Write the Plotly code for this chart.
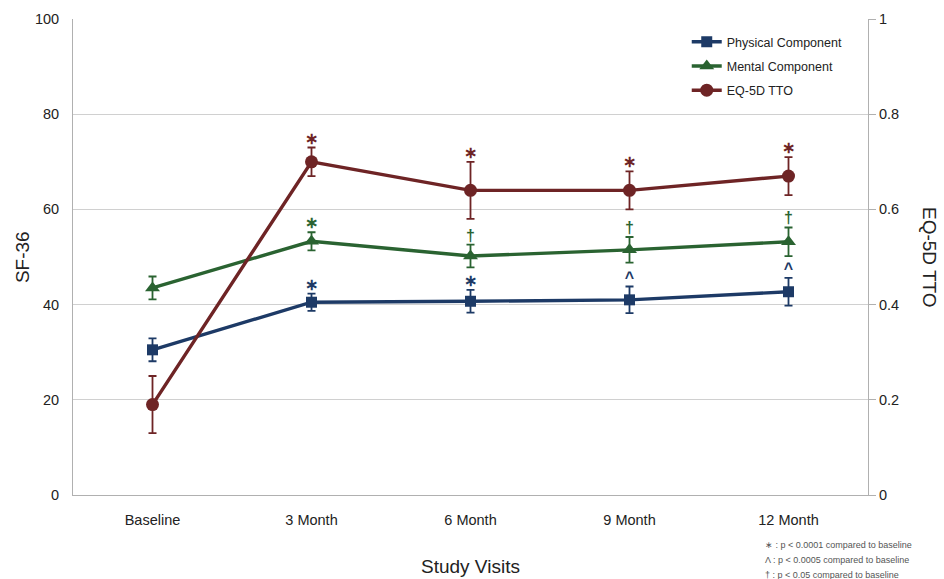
import plotly.graph_objects as go

# Study visits and measured scores
visits = ["Baseline", "3 Month", "6 Month", "9 Month", "12 Month"]

physical = [30.5, 40.5, 40.7, 41.0, 42.7]
physical_err = [2.4, 1.8, 2.4, 2.8, 2.9]
physical_sig = ["", "∗", "∗", "^", "^"]

mental = [43.5, 53.3, 50.2, 51.5, 53.2]
mental_err = [2.4, 1.9, 2.4, 2.7, 3.0]
mental_sig = ["", "∗", "†", "†", "†"]

eq5d = [0.19, 0.70, 0.64, 0.64, 0.67]
eq5d_err = [0.06, 0.03, 0.06, 0.04, 0.04]
eq5d_sig = ["", "∗", "∗", "∗", "∗"]

left_ticks = [0, 20, 40, 60, 80, 100]
right_ticks = [0, 0.2, 0.4, 0.6, 0.8, 1]
right_tick_labels = ["0", "0.2", "0.4", "0.6", "0.8", "1"]

footnotes = [
    "∗ : p < 0.0001 compared to baseline",
    "Λ : p < 0.0005 compared to baseline",
    "† : p < 0.05 compared to baseline",
]

NAVY = "#1d3a66"
GREEN = "#2a6331"
MAROON = "#6e2425"
FONT = "Liberation Sans, Arial, sans-serif"

fig = go.Figure()


def add_series(name, values, errs, sig, color, symbol, size, yaxis):
    fig.add_trace(go.Scatter(
        x=visits, y=values, name=name, mode="lines+markers", yaxis=yaxis,
        legendgroup=name,
        line=dict(color=color, width=3.4),
        marker=dict(symbol=symbol, size=size, color=color),
        error_y=dict(type="data", array=errs, visible=True,
                     color=color, thickness=1.8, width=4),
    ))
    # significance marks just above each upper error bar
    tops = [v + e for v, e in zip(values, errs)]
    fig.add_trace(go.Scatter(
        x=visits, y=tops, mode="text", text=sig, yaxis=yaxis,
        legendgroup=name, textposition="top center", showlegend=False,
        hoverinfo="skip",
        textfont=dict(color=color, size=16, family=FONT, weight="bold"),
    ))


add_series("Physical Component", physical, physical_err, physical_sig,
           NAVY, "square", 11, "y")
add_series("Mental Component", mental, mental_err, mental_sig,
           GREEN, "triangle-up", 13, "y")
add_series("EQ-5D TTO", eq5d, eq5d_err, eq5d_sig,
           MAROON, "circle", 13, "y2")

annotations = [
    dict(text="SF-36", x=-0.064, y=0.5, xref="paper", yref="paper",
         xanchor="center", yanchor="middle",
         showarrow=False, textangle=-90, font=dict(size=19, family=FONT, color="#222")),
    dict(text="Study Visits", x=0.5, y=-0.151, xref="paper", yref="paper",
         xanchor="center", yanchor="middle",
         showarrow=False, font=dict(size=19, family=FONT, color="#222")),
    dict(text="EQ-5D TTO", x=1.078, y=0.5, xref="paper", yref="paper",
         xanchor="center", yanchor="middle",
         showarrow=False, textangle=90, font=dict(size=19, family=FONT, color="#222")),
]
for i, note in enumerate(footnotes):
    annotations.append(dict(
        text=note, x=0.868, y=-0.105 - i * 0.0315, xref="paper", yref="paper",
        xanchor="left", yanchor="middle", showarrow=False,
        font=dict(size=9, family=FONT, color="#555"),
    ))

fig.update_layout(
    width=944, height=579,
    margin=dict(l=73, r=76, t=19, b=84),
    paper_bgcolor="white", plot_bgcolor="white",
    font=dict(family=FONT, color="#222"),
    showlegend=True,
    legend=dict(x=0.772, y=0.983, xanchor="left", yanchor="top",
                bgcolor="rgba(0,0,0,0)", font=dict(size=12.5, family=FONT, color="#222"),
                itemwidth=30, tracegroupgap=5, traceorder="grouped"),
    xaxis=dict(range=[-0.5, 4.5], showgrid=False, showline=True,
               linecolor="#b0b0b0", linewidth=1, ticks="", zeroline=False,
               ticklabelstandoff=12,
               tickfont=dict(size=14.5, family=FONT, color="#222")),
    yaxis=dict(range=[0, 100], tickvals=left_ticks, showgrid=True,
               gridcolor="#d0d0d0", gridwidth=1, showline=True,
               linecolor="#b0b0b0", linewidth=1, zeroline=False, ticks="",
               ticklabelstandoff=10,
               tickfont=dict(size=14.5, family=FONT, color="#222")),
    yaxis2=dict(range=[0, 1], tickvals=right_ticks, ticktext=right_tick_labels,
                overlaying="y", side="right", showgrid=False, showline=True,
                linecolor="#b0b0b0", linewidth=1, zeroline=False,
                ticks="outside", ticklen=7, tickcolor="#b0b0b0",
                tickfont=dict(size=14.5, family=FONT, color="#222")),
    annotations=annotations,
)

fig.write_html("out.html")
